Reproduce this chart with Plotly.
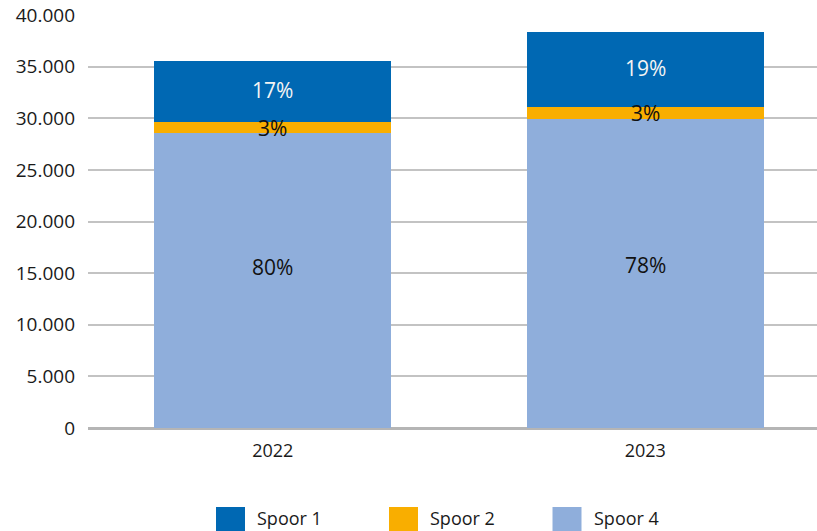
import plotly.graph_objects as go

# Stacked counts per year
years = ["2022", "2023"]
spoor4 = [28540, 29930]
spoor2 = [1095, 1160]
spoor1 = [5910, 7265]

series_names = ["Spoor 1", "Spoor 2", "Spoor 4"]
y_ticks = [0, 5000, 10000, 15000, 20000, 25000, 30000, 35000, 40000]

C_S1 = "#0068b3"
C_S2 = "#f9ae00"
C_S4 = "#8faedb"
FONT = "Open Sans"

W, H = 817, 531
ML, MR, MT, MB = 88, 0, 15, 103
PW, PH = W - ML - MR, H - MT - MB

totals = [a + b + c for a, b, c in zip(spoor4, spoor2, spoor1)]

fig = go.Figure()
stack = [("Spoor 4", spoor4, C_S4), ("Spoor 2", spoor2, C_S2), ("Spoor 1", spoor1, C_S1)]
for name, vals, col in stack:
    fig.add_bar(x=years, y=vals, name=name, marker=dict(color=col, line=dict(width=0)),
                width=0.636, showlegend=False, hoverinfo="x+y+name")

# Percentage labels centred on each segment (bottom labels nudged upward)
label_style = {
    "Spoor 4": dict(color="#111111", yshift=[14, 8]),
    "Spoor 2": dict(color="#111111", yshift=[0, 0]),
    "Spoor 1": dict(color="#f4f4f4", yshift=[2, 1]),
}
base = [0] * len(years)
for name, vals, col in stack:
    for i in range(len(years)):
        pct = round(100 * vals[i] / totals[i])
        st = label_style[name]
        fig.add_annotation(x=i, y=base[i] + vals[i] / 2, xref="x", yref="y",
                           text=f"{pct}%", showarrow=False, yshift=st["yshift"][i],
                           font=dict(family=FONT, size=21, color=st["color"]))
        base[i] += vals[i]

# Legend drawn below the plot with large swatches
def px_x(p):
    return (p - ML) / PW

def px_y(p):
    return (H - MB - p) / PH

legend_colors = [C_S1, C_S2, C_S4]
swatch_left = [216, 389, 552.5]
swatch_size = 29
for name, col, xl in zip(series_names, legend_colors, swatch_left):
    fig.add_shape(type="rect", xref="paper", yref="paper",
                  x0=px_x(xl), x1=px_x(xl + swatch_size),
                  y0=px_y(507), y1=px_y(507 + swatch_size),
                  fillcolor=col, line=dict(width=0), layer="above")
    fig.add_annotation(xref="paper", yref="paper", x=px_x(xl + swatch_size + 10),
                       y=px_y(518), xanchor="left", yanchor="middle",
                       text=name, showarrow=False,
                       font=dict(family=FONT, size=18, color="#1a1a1a"))

fig.update_layout(
    barmode="stack",
    width=W, height=H,
    margin=dict(l=ML, r=MR, t=MT, b=MB, pad=0),
    paper_bgcolor="white", plot_bgcolor="white",
    separators=",.",
    font=dict(family=FONT, size=19, color="#1a1a1a"),
    xaxis=dict(type="category", range=[-0.496, 1.461], showgrid=False,
               showline=False, ticks="", ticklabelstandoff=10,
               tickfont=dict(family=FONT, size=18, color="#1a1a1a")),
    yaxis=dict(range=[0, 40000], tickvals=y_ticks, tickformat=",d",
               showgrid=True, gridcolor="#c3c3c3", gridwidth=1.5,
               zeroline=True, zerolinecolor="#b5b5b5", zerolinewidth=2.5,
               showline=False, ticks="", ticklabelstandoff=12,
               tickfont=dict(family=FONT, size=19, color="#1a1a1a")),
)

fig.write_html("out.html")
